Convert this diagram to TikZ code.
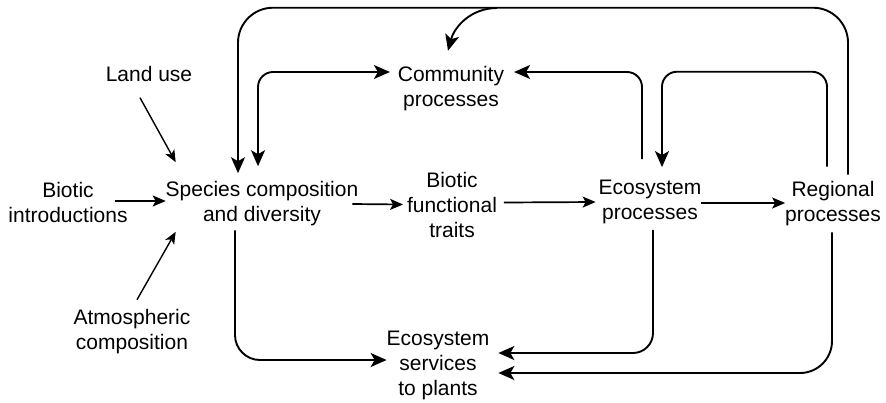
\documentclass[tikz,border=0pt]{standalone}
\usepackage{fontspec}
\setmainfont{Liberation Sans}
\usetikzlibrary{arrows.meta}
\tikzstyle{txt} = [align=center, inner sep=0pt, outer sep=0pt, font=\fontsize{21}{25}\selectfont]
\tikzstyle{bigarrow} = [line width=1.9pt, rounded corners=15pt, -{Stealth[length=16pt,width=14pt,inset=4pt]}]
\tikzstyle{twoarrow} = [line width=1.9pt, rounded corners=15pt, {Stealth[length=16pt,width=14pt,inset=4pt]}-{Stealth[length=16pt,width=14pt,inset=4pt]}]
\tikzstyle{smallarrow} = [line width=1.7pt, -{Stealth[length=13pt,width=11pt,inset=3pt]}]
\tikzstyle{thinarrow} = [line width=1.4pt, -{Stealth[length=12pt,width=10pt,inset=3pt]}]

\begin{document}
\begin{tikzpicture}[x=1pt,y=-1pt]
\useasboundingbox (0,0) rectangle (886,402);
\node [txt] (landuse) at (149,74) {Land use};
\node [txt] (intro) at (68,202) {Biotic\\introductions};
\node [txt] (species) at (262,204) {Species composition\\and diversity};
\node [txt] (atmos) at (132,332) {Atmospheric\\composition};
\node [txt] (community) at (451,89) {Community\\processes};
\node [txt] (traits) at (452,204.5) {Biotic\\functional\\traits};
\node [txt] (ecosys) at (650,202) {Ecosystem\\processes};
\node [txt] (regional) at (833,204) {Regional\\processes};
\node [txt] (services) at (438,365) {Ecosystem\\services\\to plants};
\coordinate (split) at (497,8);

\draw [thinarrow] ([xshift=-9pt,yshift=-16pt]landuse.south) -- ([xshift=10pt,yshift=19.5pt]species.north west);
\draw [thinarrow] ([xshift=5pt,yshift=10pt]atmos.north) -- ([xshift=10pt,yshift=-5.5pt]species.south west);
\draw [smallarrow] ([xshift=-13pt,yshift=1pt]intro.east) -- ([yshift=3pt]species.west);
\draw [smallarrow] ([xshift=-6pt]species.east) -- ([xshift=-4pt]traits.west);
\draw [smallarrow] ([xshift=7pt,yshift=2pt]traits.east) -- ([xshift=-3pt]ecosys.west);
\draw [smallarrow] ([yshift=-1pt]ecosys.east) -- ([yshift=-1pt]ecosys.east -| regional.west);

\draw [twoarrow] ([xshift=-4pt,yshift=15.5pt]species.north) |- ([xshift=-8pt,yshift=17pt]community.west);
\draw [bigarrow] ([xshift=-8pt,yshift=21pt]ecosys.north) |- ([xshift=10pt,yshift=17pt]community.east);
\draw [bigarrow] ([xshift=-6pt,yshift=15pt]regional.north) -- ++(0,-95) -| ([xshift=12pt,yshift=13pt]ecosys.north);
\draw [bigarrow, rounded corners=35pt] ([xshift=15pt,yshift=7pt]regional.north) -- ++(0,-167) -| ([xshift=-24pt,yshift=8.5pt]species.north);
\draw [bigarrow] (split) to[out=180,in=75] ([xshift=-3pt,yshift=16pt]community.north);

\draw [bigarrow, rounded corners=25pt] ([xshift=-27pt,yshift=-4pt]species.south) |- ([yshift=5pt]services.west);
\draw [bigarrow, rounded corners=20pt] ([xshift=3pt,yshift=-6pt]ecosys.south) |- ([xshift=9pt,yshift=12pt]services.east);
\draw [bigarrow, rounded corners=32pt] ([xshift=-1pt,yshift=-6pt]regional.south) |- ([xshift=9pt,yshift=-8pt]services.east);
\end{tikzpicture}
\end{document}
